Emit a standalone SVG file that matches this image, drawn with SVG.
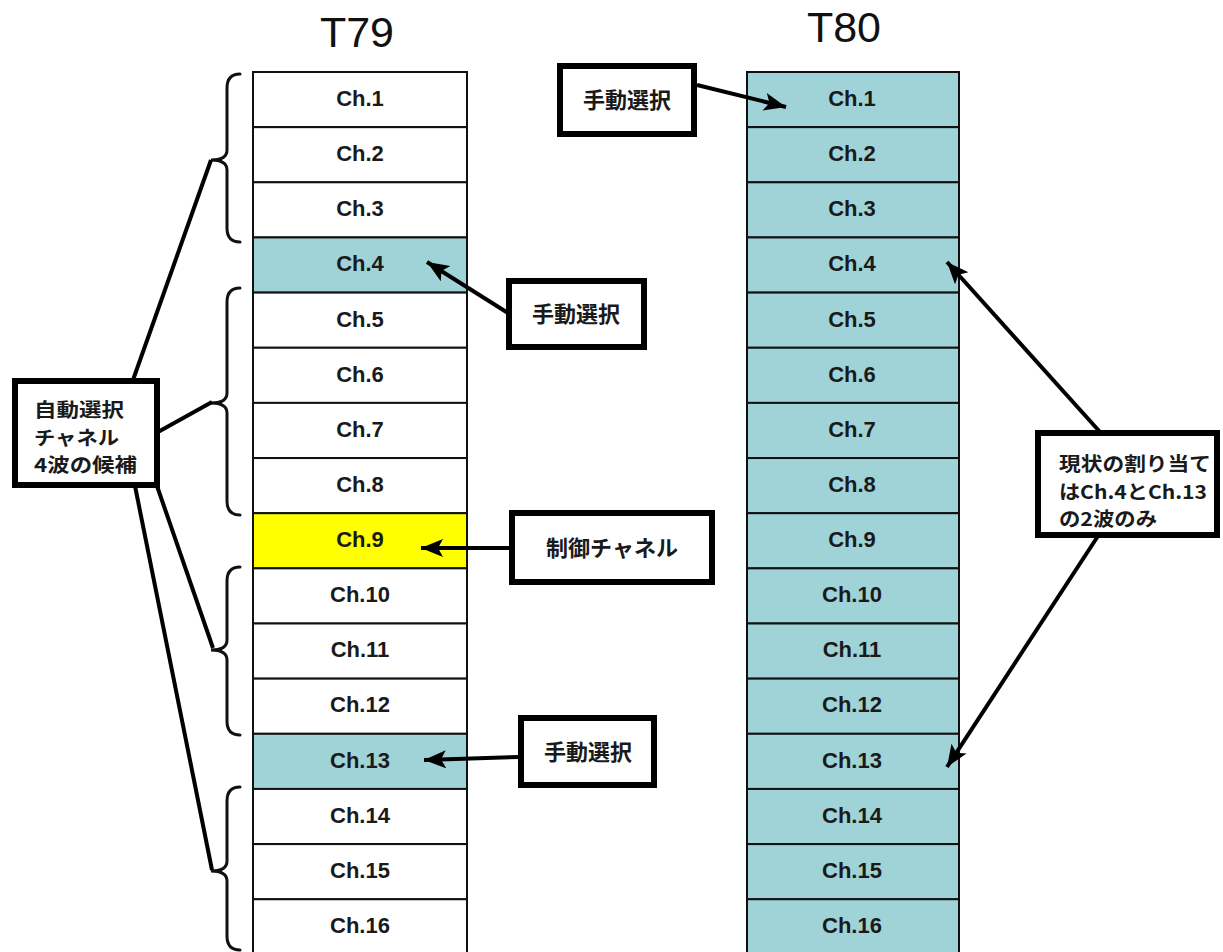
<svg xmlns="http://www.w3.org/2000/svg" width="1223" height="952" viewBox="0 0 1223 952">
<style>
.cell{stroke:#111;stroke-width:2}
.w{fill:#fff}
.t{fill:#a0d3d7}
.y{fill:#ffff00}
.ct{font-family:"Liberation Sans",Arial,sans-serif;font-weight:bold;font-size:22px;fill:#1a1a1a;text-anchor:middle}
.title{font-family:"Liberation Sans",Arial,sans-serif;font-size:43px;fill:#111;text-anchor:middle}
.box{fill:#fff;stroke:#000;stroke-width:6}
.jp{font-family:"Noto Sans CJK JP",sans-serif;font-weight:bold;font-size:22px;fill:#1a1a1a}
.jm{font-family:"Noto Sans CJK JP",sans-serif;font-weight:bold;font-size:19px;fill:#1a1a1a}
.brace{fill:none;stroke:#111;stroke-width:3;stroke-linecap:round}
.ln{fill:none;stroke:#000;stroke-width:4}
.ar{fill:none;stroke:#000;stroke-width:4;marker-end:url(#ah)}
</style>
<defs>
<marker id="ah" markerUnits="userSpaceOnUse" markerWidth="24" markerHeight="20" refX="22" refY="9" orient="auto" viewBox="0 0 24 20">
<path d="M0,0 L22,9 L0,18 L5,9 z" fill="#000"/>
</marker>
</defs>
<rect width="1223" height="952" fill="#fff"/>
<text class="title" x="357" y="47">T79</text>
<text class="title" x="844" y="42">T80</text>

<g id="T79">
<g id="t79-1"><rect class="cell w" x="253" y="72" width="214" height="55.15"/><text class="ct" x="360" y="106">Ch.1</text></g>
<g id="t79-2"><rect class="cell w" x="253" y="127.15" width="214" height="55.15"/><text class="ct" x="360" y="161">Ch.2</text></g>
<g id="t79-3"><rect class="cell w" x="253" y="182.3" width="214" height="55.15"/><text class="ct" x="360" y="216">Ch.3</text></g>
<g id="t79-4"><rect class="cell t" x="253" y="237.45" width="214" height="55.15"/><text class="ct" x="360" y="271">Ch.4</text></g>
<g id="t79-5"><rect class="cell w" x="253" y="292.6" width="214" height="55.15"/><text class="ct" x="360" y="327">Ch.5</text></g>
<g id="t79-6"><rect class="cell w" x="253" y="347.75" width="214" height="55.15"/><text class="ct" x="360" y="382">Ch.6</text></g>
<g id="t79-7"><rect class="cell w" x="253" y="402.9" width="214" height="55.15"/><text class="ct" x="360" y="437">Ch.7</text></g>
<g id="t79-8"><rect class="cell w" x="253" y="458.05" width="214" height="55.15"/><text class="ct" x="360" y="492">Ch.8</text></g>
<g id="t79-9"><rect class="cell y" x="253" y="513.2" width="214" height="55.15"/><text class="ct" x="360" y="547">Ch.9</text></g>
<g id="t79-10"><rect class="cell w" x="253" y="568.35" width="214" height="55.15"/><text class="ct" x="360" y="602">Ch.10</text></g>
<g id="t79-11"><rect class="cell w" x="253" y="623.5" width="214" height="55.15"/><text class="ct" x="360" y="657">Ch.11</text></g>
<g id="t79-12"><rect class="cell w" x="253" y="678.65" width="214" height="55.15"/><text class="ct" x="360" y="712">Ch.12</text></g>
<g id="t79-13"><rect class="cell t" x="253" y="733.8" width="214" height="55.15"/><text class="ct" x="360" y="768">Ch.13</text></g>
<g id="t79-14"><rect class="cell w" x="253" y="788.95" width="214" height="55.15"/><text class="ct" x="360" y="823">Ch.14</text></g>
<g id="t79-15"><rect class="cell w" x="253" y="844.1" width="214" height="55.15"/><text class="ct" x="360" y="878">Ch.15</text></g>
<g id="t79-16"><rect class="cell w" x="253" y="899.25" width="214" height="55.15"/><text class="ct" x="360" y="933">Ch.16</text></g>
</g>

<g id="T80">
<g id="t80-1"><rect class="cell t" x="747" y="72" width="212" height="55.15"/><text class="ct" x="852" y="106">Ch.1</text></g>
<g id="t80-2"><rect class="cell t" x="747" y="127.15" width="212" height="55.15"/><text class="ct" x="852" y="161">Ch.2</text></g>
<g id="t80-3"><rect class="cell t" x="747" y="182.3" width="212" height="55.15"/><text class="ct" x="852" y="216">Ch.3</text></g>
<g id="t80-4"><rect class="cell t" x="747" y="237.45" width="212" height="55.15"/><text class="ct" x="852" y="271">Ch.4</text></g>
<g id="t80-5"><rect class="cell t" x="747" y="292.6" width="212" height="55.15"/><text class="ct" x="852" y="327">Ch.5</text></g>
<g id="t80-6"><rect class="cell t" x="747" y="347.75" width="212" height="55.15"/><text class="ct" x="852" y="382">Ch.6</text></g>
<g id="t80-7"><rect class="cell t" x="747" y="402.9" width="212" height="55.15"/><text class="ct" x="852" y="437">Ch.7</text></g>
<g id="t80-8"><rect class="cell t" x="747" y="458.05" width="212" height="55.15"/><text class="ct" x="852" y="492">Ch.8</text></g>
<g id="t80-9"><rect class="cell t" x="747" y="513.2" width="212" height="55.15"/><text class="ct" x="852" y="547">Ch.9</text></g>
<g id="t80-10"><rect class="cell t" x="747" y="568.35" width="212" height="55.15"/><text class="ct" x="852" y="602">Ch.10</text></g>
<g id="t80-11"><rect class="cell t" x="747" y="623.5" width="212" height="55.15"/><text class="ct" x="852" y="657">Ch.11</text></g>
<g id="t80-12"><rect class="cell t" x="747" y="678.65" width="212" height="55.15"/><text class="ct" x="852" y="712">Ch.12</text></g>
<g id="t80-13"><rect class="cell t" x="747" y="733.8" width="212" height="55.15"/><text class="ct" x="852" y="768">Ch.13</text></g>
<g id="t80-14"><rect class="cell t" x="747" y="788.95" width="212" height="55.15"/><text class="ct" x="852" y="823">Ch.14</text></g>
<g id="t80-15"><rect class="cell t" x="747" y="844.1" width="212" height="55.15"/><text class="ct" x="852" y="878">Ch.15</text></g>
<g id="t80-16"><rect class="cell t" x="747" y="899.25" width="212" height="55.15"/><text class="ct" x="852" y="933">Ch.16</text></g>
</g>

<g id="braces">
<path class="brace" d="M240,74 Q227,74 227,88 L227,150 Q227,160 211,160 Q227,160 227,170 L227,228 Q227,242 240,242"/>
<path class="brace" d="M240,288 Q227,288 227,302 L227,393 Q227,403 211,403 Q227,403 227,413 L227,501 Q227,515 240,515"/>
<path class="brace" d="M240,567 Q227,567 227,581 L227,640 Q227,650 211,650 Q227,650 227,660 L227,721 Q227,735 240,735"/>
<path class="brace" d="M240,787 Q227,787 227,801 L227,861 Q227,871 211,871 Q227,871 227,881 L227,936 Q227,950 240,950"/>
</g>

<g id="connectors">
<line class="ln" x1="133" y1="380" x2="211" y2="160"/>
<line class="ln" x1="158" y1="432" x2="212" y2="402"/>
<line class="ln" x1="157" y1="486" x2="213" y2="648"/>
<line class="ln" x1="135" y1="486" x2="212" y2="870"/>
<line class="ar" x1="697" y1="85" x2="786" y2="107"/>
<line class="ar" x1="508" y1="313" x2="427" y2="262"/>
<line class="ar" x1="510" y1="548" x2="421" y2="548"/>
<line class="ar" x1="519" y1="757" x2="424" y2="760"/>
<line class="ar" x1="1100" y1="432" x2="947" y2="262"/>
<line class="ar" x1="1098" y1="536" x2="947" y2="767"/>
</g>

<g id="auto-box">
<rect class="box" x="15" y="381" width="142" height="104"/>
<text class="jm" x="34" y="417" textLength="90" lengthAdjust="spacingAndGlyphs">自動選択</text>
<text class="jm" x="34" y="444.5" textLength="85" lengthAdjust="spacingAndGlyphs">チャネル</text>
<text class="jm" x="34" y="472" textLength="103" lengthAdjust="spacingAndGlyphs">4波の候補</text>
</g>

<g id="manual-t80">
<rect class="box" x="560" y="66" width="134" height="68"/>
<text class="jp" x="627" y="108" text-anchor="middle">手動選択</text>
</g>

<g id="manual-ch4">
<rect class="box" x="509" y="281" width="135" height="66"/>
<text class="jp" x="576" y="322" text-anchor="middle">手動選択</text>
</g>

<g id="control">
<rect class="box" x="512" y="513" width="200" height="69"/>
<text class="jp" x="612" y="556" text-anchor="middle">制御チャネル</text>
</g>

<g id="manual-ch13">
<rect class="box" x="521" y="718" width="133" height="67"/>
<text class="jp" x="588" y="760" text-anchor="middle">手動選択</text>
</g>

<g id="note">
<rect class="box" x="1038" y="433" width="179" height="102"/>
<text class="jm" x="1059" y="471" textLength="152" lengthAdjust="spacingAndGlyphs">現状の割り当て</text>
<text class="jm" x="1059" y="498.5" textLength="148" lengthAdjust="spacingAndGlyphs">はCh.4とCh.13</text>
<text class="jm" x="1059" y="526" textLength="98" lengthAdjust="spacingAndGlyphs">の2波のみ</text>
</g>
</svg>
